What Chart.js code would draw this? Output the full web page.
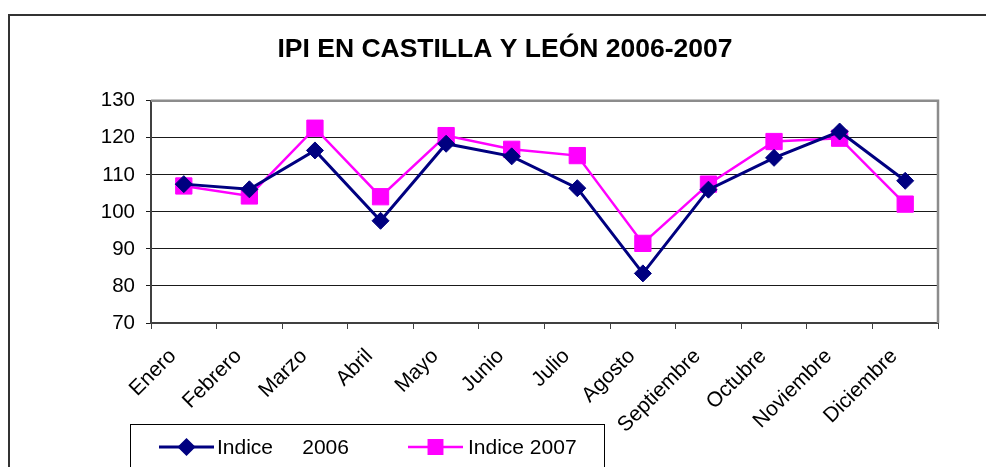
<!DOCTYPE html>
<html>
<head>
<meta charset="utf-8">
<script src="https://cdn.jsdelivr.net/npm/chart.js@4/dist/chart.umd.min.js"></script>
<style>
  html, body { margin: 0; padding: 0; background: #fff; }
  #wrap { width: 986px; height: 467px; position: relative; }
</style>
</head>
<body>
<div id="wrap"><canvas id="ipi" width="986" height="467"></canvas></div>
<script>
const meses = ['Enero', 'Febrero', 'Marzo', 'Abril', 'Mayo', 'Junio', 'Julio',
  'Agosto', 'Septiembre', 'Octubre', 'Noviembre', 'Diciembre'];
const indice2006 = [107.5, 106.1, 116.6, 97.6, 118.4, 115.0, 106.4, 83.4, 106.0, 114.6, 121.7, 108.4];
const indice2007 = [107.0, 104.3, 122.6, 104.1, 120.6, 116.9, 115.2, 91.5, 107.5, 119.0, 119.9, 102.1];
const yTicks = [70, 80, 90, 100, 110, 120, 130];

const FONT = "'Liberation Sans', Arial, sans-serif";

// outer frame + top/right border of the plot area
const marcoPlugin = {
  id: 'marco',
  beforeDraw(chart) {
    const ctx = chart.ctx;
    ctx.save();
    ctx.fillStyle = '#fff';
    ctx.fillRect(0, 0, chart.width, chart.height);
    ctx.strokeStyle = '#333';
    ctx.lineWidth = 2;
    ctx.strokeRect(9, 15, 1200, 800);
    ctx.restore();
  },
  beforeDatasetsDraw(chart) {
    const { ctx, chartArea: a } = chart;
    ctx.save();
    ctx.strokeStyle = '#8c8c8c';
    ctx.lineWidth = 2.5;
    ctx.beginPath();
    ctx.moveTo(a.left, a.top);
    ctx.lineTo(a.right, a.top);
    ctx.lineTo(a.right, a.bottom);
    ctx.stroke();
    ctx.restore();
  }
};

// legend box drawn like the original (line + marker + text)
const leyendaPlugin = {
  id: 'leyenda',
  afterDraw(chart) {
    const ctx = chart.ctx;
    ctx.save();
    ctx.strokeStyle = '#000';
    ctx.lineWidth = 1;
    ctx.strokeRect(130.5, 424.5, 474, 100);
    const items = [
      { x0: 159, x1: 214, tx: 217, y: 447, r: 7 },
      { x0: 408, x1: 463, tx: 468, y: 447, r: 9.5 }
    ];
    chart.data.datasets.forEach((ds, i) => {
      const it = items[i];
      ctx.strokeStyle = ds.borderColor;
      ctx.lineWidth = ds.borderWidth;
      ctx.beginPath();
      ctx.moveTo(it.x0, it.y);
      ctx.lineTo(it.x1, it.y);
      ctx.stroke();
      Chart.helpers.drawPoint(ctx, {
        pointStyle: ds.pointStyle, radius: it.r, rotation: 0, borderWidth: 1
      }, (it.x0 + it.x1) / 2, it.y);
      ctx.fillStyle = ds.pointBackgroundColor;
      ctx.fill();
      ctx.fillStyle = '#000';
      ctx.font = '21px ' + FONT;
      ctx.textBaseline = 'middle';
      ctx.textAlign = 'left';
      ctx.fillText(ds.label, it.tx, it.y + 1);
    });
    ctx.restore();
  }
};

new Chart(document.getElementById('ipi'), {
  type: 'line',
  data: {
    labels: meses,
    datasets: [
      {
        label: 'Indice     2006',
        data: indice2006,
        borderColor: '#000080',
        backgroundColor: '#000080',
        pointBackgroundColor: '#000080',
        pointBorderColor: '#000080',
        borderWidth: 3,
        pointStyle: 'rectRot',
        pointRadius: 8.5,
        pointBorderWidth: 1,
        tension: 0
      },
      {
        label: 'Indice 2007',
        data: indice2007,
        borderColor: '#ff00ff',
        backgroundColor: '#ff00ff',
        pointBackgroundColor: '#ff00ff',
        pointBorderColor: '#ff00ff',
        borderWidth: 2.5,
        pointStyle: 'rect',
        pointRadius: 11.5,
        pointBorderWidth: 1,
        tension: 0
      }
    ]
  },
  options: {
    responsive: false,
    animation: false,
    events: [],
    layout: { padding: { left: 72, right: 48, top: 0, bottom: 0 } },
    plugins: {
      legend: { display: false },
      tooltip: { enabled: false },
      title: {
        display: true,
        text: 'IPI EN CASTILLA Y LEÓN 2006-2007',
        color: '#000',
        font: { family: FONT, size: 26.5, weight: 'bold' },
        padding: { top: 34, bottom: 35 }
      }
    },
    scales: {
      x: {
        offset: true,
        afterFit(scale) { scale.height = 144; },
        grid: {
          offset: true,
          drawOnChartArea: false,
          drawTicks: true,
          tickLength: 6,
          color: '#404040',
          lineWidth: 1
        },
        border: { color: '#404040', width: 2 },
        ticks: {
          autoSkip: false,
          minRotation: 45,
          maxRotation: 45,
          padding: 15,
          labelOffset: -11,
          color: '#000',
          font: { family: FONT, size: 21 }
        }
      },
      y: {
        min: 70,
        max: 130,
        afterFit(scale) { scale.width = 79; },
        afterBuildTicks(scale) { scale.ticks = yTicks.map(v => ({ value: v })); },
        grid: { color: '#1a1a1a', lineWidth: 1, tickLength: 5 },
        border: { color: '#404040', width: 2 },
        ticks: {
          padding: 11,
          color: '#000',
          font: { family: FONT, size: 20.5 }
        }
      }
    }
  },
  plugins: [marcoPlugin, leyendaPlugin]
});
</script>
</body>
</html>
